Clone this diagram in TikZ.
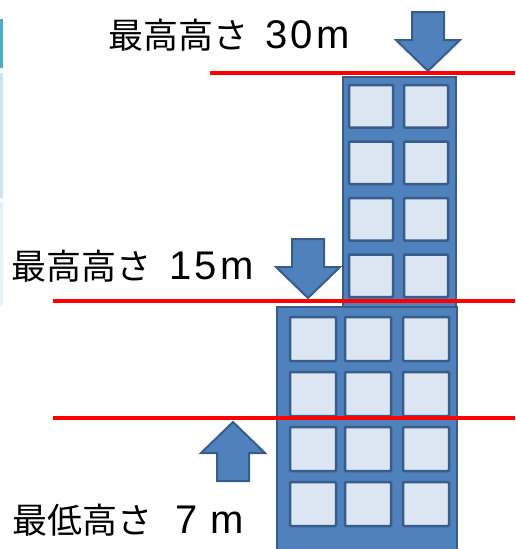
\documentclass[tikz,border=0pt]{standalone}
\usepackage{fontspec}
\newfontfamily\jpfont{Noto Sans CJK JP}
\newfontfamily\numfont[LetterSpace=8]{Liberation Sans}

\definecolor{bldgblue}{HTML}{4F81BD}
\definecolor{bldgedge}{HTML}{385D8A}
\definecolor{winfill}{HTML}{DCE6F2}
\definecolor{tabdark}{HTML}{4BACC6}
\definecolor{tablight}{HTML}{CDE5EE}
\definecolor{tabpale}{HTML}{E6F2F6}

\tikzset{
	marker/.style={fill=bldgblue, draw=bldgedge, line width=2pt, line join=miter},
	pics/blockarrow/.style={code={
		\draw[marker] (-16,-59) -- (16,-59) -- (16,-31) -- (32,-31) -- (0,0) -- (-32,-31) -- (-16,-31) -- cycle;
	}}
}
% numbers in the labels
\newcommand{\hnum}[1]{{\numfont\fontsize{40}{44}\selectfont #1}}

\begin{document}
\begin{tikzpicture}[x=1pt, y=-1pt,
	bldg/.style={fill=bldgblue, draw=bldgedge, line width=2pt},
	win/.style={fill=winfill, draw=bldgedge, line width=2.5pt, rounded corners=1pt},
	level/.style={draw=red, line width=4pt},
	heightlabel/.style={anchor=base west, inner sep=0pt, font=\jpfont\fontsize{35}{40}\selectfont}]
	\useasboundingbox (0,0) rectangle (515,549);
	\clip (0,0) rectangle (515,549);

	% tabs on the left edge
	\fill[tabdark] (0,19) rectangle (2.5,68);
	\fill[tablight] (0,73) rectangle (2.5,198);
	\fill[tabpale] (0,202) rectangle (2.5,305);

	% tower and lower block
	\draw[bldg] (343,77) rectangle (456,307);
	\foreach \x in {349,404}
		\foreach \y in {85,141.5,198,254.5}
			\draw[win] (\x,\y) rectangle ++(44,42.5);

	\draw[bldg] (277,307) rectangle (457,580);
	\foreach \x in {290,345,403}
		\foreach \y in {317,372,427,482}
			\draw[win] (\x,\y) rectangle ++(46,44);

	% height limits
	\draw[level] (210,73) -- (515,73);
	\draw[level] (53,301) -- (515,301);
	\draw[level] (53,418) -- (515,418);

	\pic at (428,71) {blockarrow};
	\pic at (308,298) {blockarrow};
	\pic[rotate=180] at (233,422) {blockarrow};

	\node[heightlabel] (top30) at (108,48) {最高高さ\hspace{17pt}\hnum{30m}};
	\node[heightlabel] (mid15) at (11,279) {最高高さ\hspace{18pt}\hnum{15m}};
	\node[heightlabel] (low7) at (12,533) {最低高さ\hspace{23pt}\hnum{7\hspace{13pt}m}};
\end{tikzpicture}
\end{document}
